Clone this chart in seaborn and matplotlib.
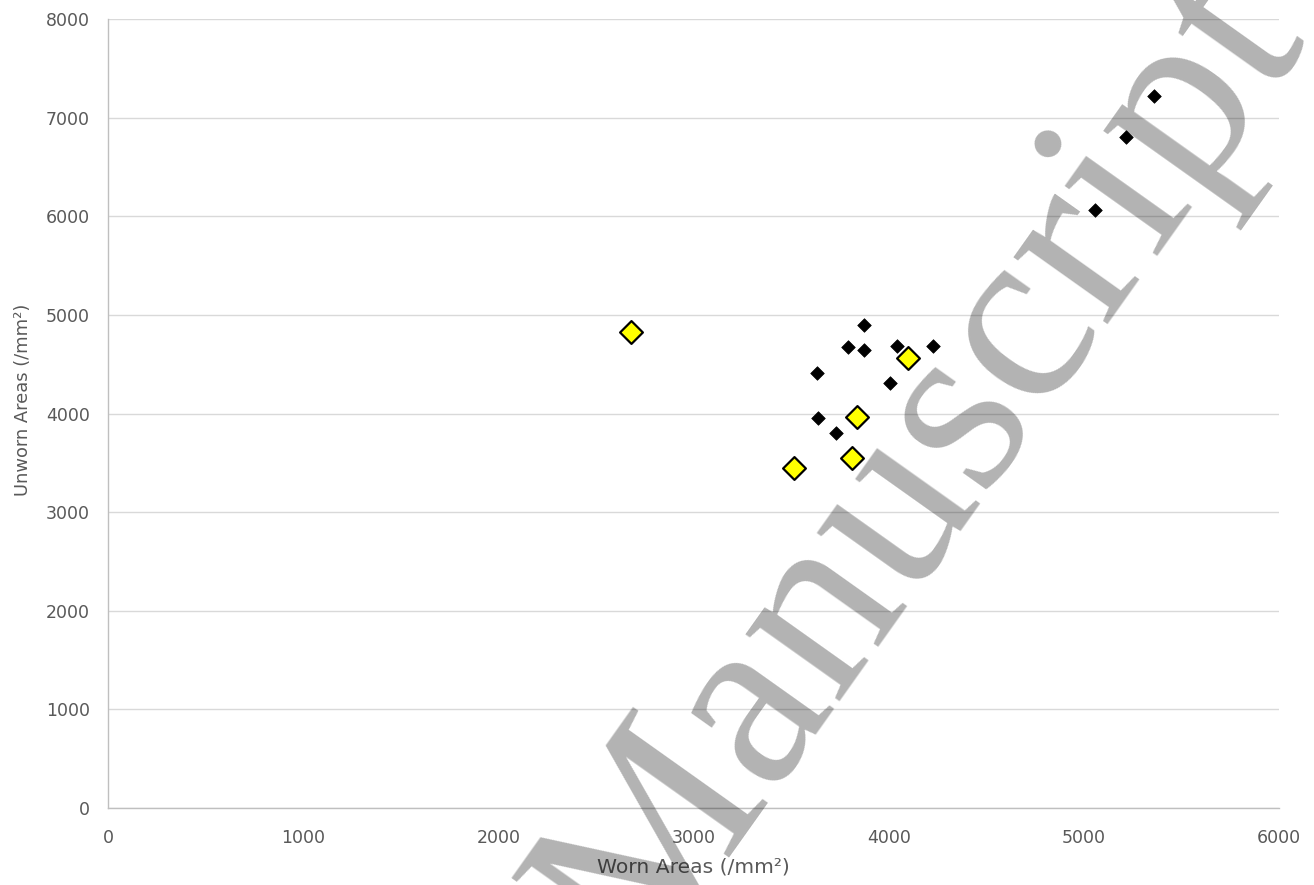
import pandas as pd
import matplotlib.pyplot as plt
import seaborn as sns

# Worn vs unworn areas (/mm²)
black_worn = [5361, 5214, 5056, 3875, 3790, 3875, 4044, 4229, 3633, 4008, 3638, 3730]
black_unworn = [7219, 6807, 6060, 4897, 4677, 4644, 4684, 4688, 4414, 4306, 3957, 3799]
yellow_worn = [2680, 4098, 3839, 3814, 3515]
yellow_unworn = [4830, 4566, 3961, 3552, 3444]

df_black = pd.DataFrame({"worn": black_worn, "unworn": black_unworn})
df_yellow = pd.DataFrame({"worn": yellow_worn, "unworn": yellow_unworn})

sns.set_style("white")
plt.rcParams["font.family"] = ["DejaVu Sans"]

fig = plt.figure(figsize=(13.14, 8.85), dpi=100)
ax = fig.add_axes([0.0822, 0.0870, 0.8912, 0.8915])

sns.scatterplot(data=df_black, x="worn", y="unworn", marker="D", s=48,
                color="black", edgecolor="black", linewidth=0.5, ax=ax, zorder=3)
sns.scatterplot(data=df_yellow, x="worn", y="unworn", marker="D", s=135,
                color="#ffff00", edgecolor="black", linewidth=1.6, ax=ax, zorder=4)

ax.set_xlim(0, 6000)
ax.set_ylim(0, 8000)
ax.set_xticks(range(0, 6001, 1000))
ax.set_yticks(range(0, 8001, 1000))
ax.grid(axis="y", color="#d9d9d9", linewidth=1.0)
ax.set_axisbelow(True)
for side in ["top", "right"]:
    ax.spines[side].set_visible(False)
for side in ["left", "bottom"]:
    ax.spines[side].set_color("#bfbfbf")
    ax.spines[side].set_linewidth(1.0)
ax.tick_params(axis="both", length=0, labelsize=12.5, colors="#595959")
ax.tick_params(axis="x", pad=15)
ax.tick_params(axis="y", pad=13)

ax.set_xlabel("Worn Areas (/mm²)", fontsize=14.6, color="#595959", labelpad=8)
ax.set_ylabel("Unworn Areas (/mm²)", fontsize=12.9, color="#595959", labelpad=10)
ax.yaxis.label.set_y(0.517)

# watermark
fig.text(0.703, 0.47, "Manuscript", family="Liberation Serif", fontsize=182,
         rotation=54.6, color="black", alpha=0.3, ha="center", va="center",
         zorder=10)

fig.savefig("out.png", dpi=100)
